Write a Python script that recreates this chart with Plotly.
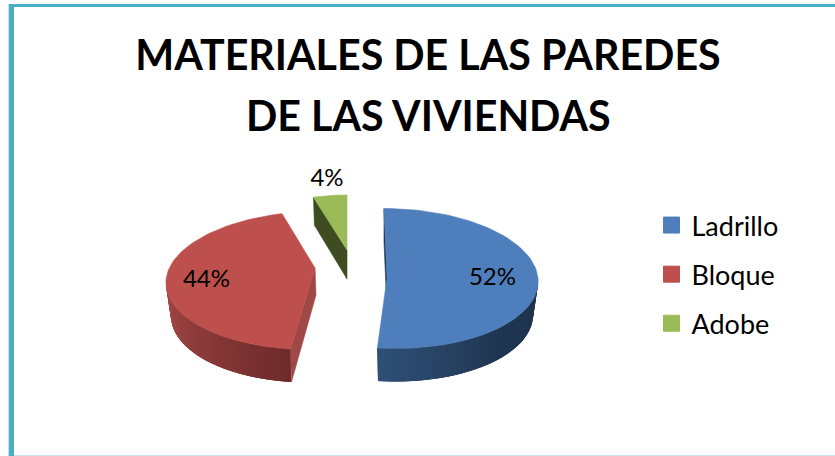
import numpy as np
import plotly.graph_objects as go

# ---- data ----
categories = ["Ladrillo", "Bloque", "Adobe"]
percent_values = [52, 44, 4]
title_lines = ["MATERIALES DE LAS PAREDES", "DE LAS VIVIENDAS"]

# ---- styles / layout ----
top_colors = ["#4e7fbc", "#bd504d", "#9bbb59"]
geom = [  # ellipse centre, radii, shear, apex of the wedge
    dict(cx=390, cy=278.5, rx=148, ry=70, s=-6, ax=387, ay=278),
    dict(cx=314, cy=280.5, rx=148, ry=69, s=5, ax=315, ay=268),
    dict(cx=347, cy=264, rx=135, ry=69, s=0, ax=347, ay=250),
]
DEPTH = 33
INSET = 5
label_x = [492.5, 206.5, 327]
label_y = [279, 281, 180]
FONT = "Lato"


def ramp(a, b, t):
    ca = [int(a[i:i + 2], 16) for i in (1, 3, 5)]
    cb = [int(b[i:i + 2], 16) for i in (1, 3, 5)]
    return "rgb(%d,%d,%d)" % tuple(round(p + (q - p) * t) for p, q in zip(ca, cb))


def rim(g, th, bottom=False):
    r = np.radians(th)
    rx = g["rx"] - (INSET if bottom else 0)
    return (g["cx"] + rx * np.sin(r) + g["s"] * np.cos(r),
            g["cy"] - g["ry"] * np.cos(r) + (DEPTH if bottom else 0))


def poly(xs, ys, color, width=0.6):
    return go.Scatter(x=list(xs), y=list(ys), mode="lines", fill="toself", fillcolor=color,
                      line=dict(color=color, width=width), hoverinfo="skip",
                      showlegend=False)


edges = np.cumsum([0] + percent_values) / sum(percent_values) * 360
fig = go.Figure()

# outer walls of the two front slices: overlapping shaded strips, so no seams show
wall_ramps = {0: ("#1f3450", "#2f4f75"), 1: ("#a84a48", "#6f2b2b")}
wall_spans = {0: (88, edges[1]), 1: (edges[1], 272)}
for i in (0, 1):
    g = geom[i]
    a0, a1 = wall_spans[i]
    grid = np.linspace(a0, a1, 41)
    for j in range(len(grid) - 1):
        # red runs from the front towards the back, so paint from the back forwards
        k = j if i == 0 else len(grid) - 2 - j
        lo = grid[k] if i == 0 else grid[max(k - 2, 0)]
        hi = grid[min(k + 3, len(grid) - 1)] if i == 0 else grid[k + 1]
        th = np.linspace(lo, hi, 6)
        tx, ty = rim(g, th)
        bx, by = rim(g, th[::-1], True)
        u = k / (len(grid) - 2)
        if i == 0:
            u = max(0.0, (u - 0.45) / 0.55)
        c = ramp(*wall_ramps[i], 1 - u if i == 1 else u)
        fig.add_trace(poly(np.r_[tx, bx, tx[0]], np.r_[ty, by, ty[0]], c, width=0))

# blue slice: cut face behind the top (thin sliver)
g = geom[0]
sx, sy = rim(g, 0)
fig.add_trace(poly([sx, g["ax"], g["ax"], sx, sx],
                   [sy, g["ay"], g["ay"] + DEPTH, sy + DEPTH, sy], "#1f3450"))

# red slice: cut face towards the viewer
g = geom[1]
ex, ey = rim(g, edges[1])
fig.add_trace(poly([g["ax"], ex, ex + 1, g["ax"] + 1, g["ax"]],
                   [g["ay"], ey, ey + DEPTH, g["ay"] + 27, g["ay"]], "#a04845"))

# green slice: cut face towards the viewer
g = geom[2]
gx, gy = rim(g, edges[2])
fig.add_trace(poly([gx, g["ax"], g["ax"], gx + 1, gx],
                   [gy, g["ay"], g["ay"] + 29, gy + 28, gy], "#3f4b20"))

# top faces
for i in range(3):
    g = geom[i]
    th = np.linspace(edges[i], edges[i + 1], 80)
    px, py = rim(g, th)
    fig.add_trace(poly(np.r_[g["ax"], px, g["ax"]], np.r_[g["ay"], py, g["ay"]], top_colors[i]))

# percentage labels
fig.add_trace(go.Scatter(x=label_x, y=label_y, mode="text",
                         text=["%d%%" % v for v in percent_values],
                         textfont=dict(family=FONT, size=24, color="#000000"),
                         hoverinfo="skip", showlegend=False))

# legend entries
for i, name in enumerate(categories):
    fig.add_trace(go.Scatter(x=[None], y=[None], mode="markers", name=name, legendgroup=name,
                             marker=dict(symbol="square", size=16, color=top_colors[i],
                                         line=dict(color=top_colors[i], width=1))))

fig.update_layout(
    width=835, height=456, autosize=False,
    margin=dict(l=0, r=0, t=0, b=0),
    paper_bgcolor="#ffffff", plot_bgcolor="#ffffff",
    xaxis=dict(range=[0, 835], visible=False, fixedrange=True),
    yaxis=dict(range=[456, 0], visible=False, fixedrange=True),
    title=dict(text=title_lines[0], x=428 / 835, y=1 - 56 / 456, xanchor="center", yanchor="middle",
               font=dict(family=FONT, size=41.2, color="#000000", weight="bold")),
    annotations=[dict(text=title_lines[1], x=428, y=114.5, xref="x", yref="y", showarrow=False,
                      font=dict(family=FONT, size=41.2, color="#000000", weight="bold"))],
    legend=dict(x=651.5 / 835, y=1 - 201 / 456, xanchor="left", yanchor="top",
                font=dict(family=FONT, size=27, color="#000000"),
                traceorder="grouped", tracegroupgap=11, bgcolor="rgba(0,0,0,0)",
                itemsizing="trace"),
    shapes=[
        dict(type="rect", xref="x", yref="y", x0=8, x1=9, y0=4, y1=456, fillcolor="#c5e3ea", line_width=0, layer="below"),
        dict(type="rect", xref="x", yref="y", x0=9, x1=14, y0=4, y1=456, fillcolor="#4bacc6", line_width=0, layer="below"),
        dict(type="rect", xref="x", yref="y", x0=9, x1=835, y0=4, y1=7, fillcolor="#4bacc6", line_width=0, layer="below"),
        dict(type="rect", xref="x", yref="y", x0=14, x1=835, y0=455, y1=456, fillcolor="#c5e3ea", line_width=0, layer="below"),
    ],
)

fig.write_html("out.html", post_script="document.body.style.margin='0';",
               config=dict(displayModeBar=False))
